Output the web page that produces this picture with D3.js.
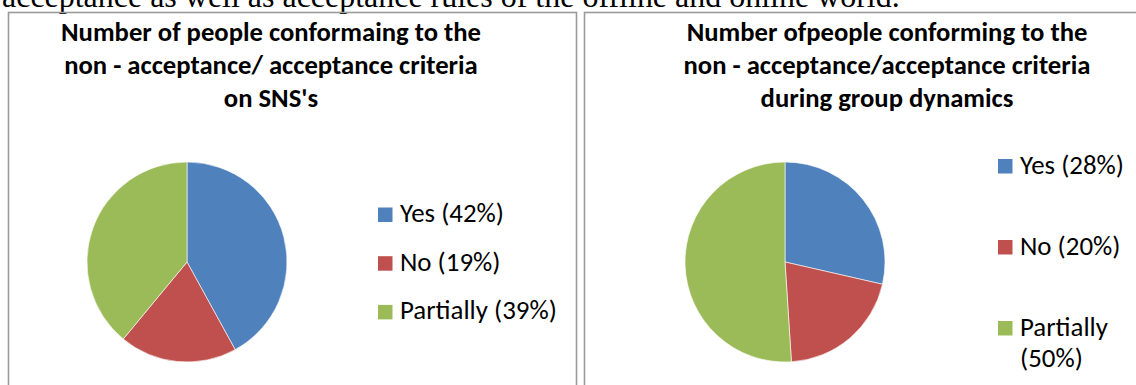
<!DOCTYPE html>
<html>
<head>
<meta charset="utf-8">
<script src="https://cdn.jsdelivr.net/npm/d3@7/dist/d3.min.js"></script>
<style>
  html, body { margin: 0; padding: 0; background: #fff; }
  svg { display: block; }
</style>
</head>
<body>
<svg id="chart" width="1136" height="385"></svg>
<script>
// ---- data ----
const categories = ["Yes", "No", "Partially"];
const snsValues = [42, 19, 39];
const groupValues = [28, 20, 50];
const snsTitle = ["Number of people conformaing to the", "non - acceptance/ acceptance criteria", "on SNS's"];
const groupTitle = ["Number ofpeople conforming to the", "non - acceptance/acceptance criteria", "during group dynamics"];
const bodyLine = "acceptance as well as acceptance rules of the offline and online world.";

const colors = ["#4F81BD", "#C0504D", "#9BBB59"];
const sansFont = "Carlito, Calibri, Lato, sans-serif";

const svg = d3.select("#chart");
svg.append("rect").attr("width", 1136).attr("height", 385).attr("fill", "#fff");

// font size that makes `text` span `width` pixels
function fitSize(text, family, weight, width) {
  const probe = svg.append("text")
    .attr("font-family", family).attr("font-weight", weight)
    .attr("font-size", 100).text(text);
  const w = probe.node().getComputedTextLength();
  probe.remove();
  return 100 * width / w;
}

// running paragraph text above the figures
svg.append("text")
  .attr("x", 2).attr("y", 7)
  .attr("font-family", "'Liberation Serif', 'Times New Roman', serif")
  .attr("font-size", fitSize(bodyLine, "'Liberation Serif', serif", "normal", 898))
  .attr("fill", "#000")
  .text(bodyLine);

const titleSize = fitSize(snsTitle[0], sansFont, "bold", 420);
const legendSize = fitSize("Yes (42%)", sansFont, "normal", 104);

const color = d3.scaleOrdinal().domain(categories).range(colors);
const pie = d3.pie().sort(null).value(d => d.value);
const arc = d3.arc().innerRadius(0).outerRadius(100);

function drawPanel(cfg) {
  const g = svg.append("g");

  // frame
  g.append("rect")
    .attr("x", cfg.frame[0]).attr("y", cfg.frame[1])
    .attr("width", cfg.frame[2]).attr("height", cfg.frame[3])
    .attr("fill", "none").attr("stroke", "#9a9a9a").attr("stroke-width", 1.6);

  // title
  const t = g.append("text")
    .attr("text-anchor", "middle")
    .attr("font-family", sansFont).attr("font-weight", "bold")
    .attr("font-size", titleSize).attr("fill", "#000");
  cfg.title.forEach((line, i) => {
    t.append("tspan").attr("x", cfg.titleX).attr("y", 40.5 + i * 33).text(line);
  });

  // pie
  const data = categories.map((c, i) => ({ name: c, value: cfg.values[i] }));
  g.append("g")
    .attr("transform", `translate(${cfg.cx},${cfg.cy})`)
    .selectAll("path")
    .data(pie(data))
    .join("path")
    .attr("d", arc)
    .attr("fill", d => color(d.data.name))
    .attr("stroke", "#fff").attr("stroke-width", 0.6);

  // legend
  const lg = g.append("g");
  data.forEach((d, i) => {
    const y = cfg.legendY + i * cfg.legendStep;
    lg.append("rect")
      .attr("x", cfg.legendX).attr("y", y - 14.5)
      .attr("width", 14.5).attr("height", 14.5)
      .attr("fill", color(d.name));
    const label = `${d.name} (${d.value}%)`;
    const txt = lg.append("text")
      .attr("font-family", sansFont).attr("font-size", legendSize)
      .attr("fill", "#000");
    const tx = cfg.legendX + 22;
    const first = txt.append("tspan").attr("x", tx).attr("y", y).text(label);
    if (first.node().getComputedTextLength() > cfg.legendMaxW) {
      first.text(d.name);
      txt.append("tspan").attr("x", tx).attr("y", y + 31).text(`(${d.value}%)`);
    }
  });
}

drawPanel({
  frame: [8.5, 12.5, 568, 400],
  title: snsTitle, titleX: 271,
  values: snsValues, cx: 187, cy: 262,
  legendX: 378, legendY: 222, legendStep: 48.7, legendMaxW: 170
});

drawPanel({
  frame: [584.5, 12.5, 600, 400],
  title: groupTitle, titleX: 887,
  values: groupValues, cx: 785, cy: 262,
  legendX: 998, legendY: 173.5, legendStep: 81, legendMaxW: 115
});
</script>
</body>
</html>
